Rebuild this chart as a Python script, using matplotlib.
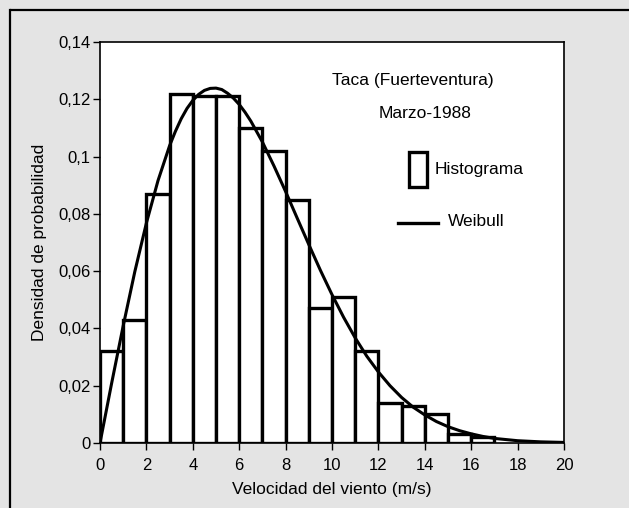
import matplotlib
matplotlib.use("Agg")
import matplotlib.pyplot as plt
from matplotlib.patches import Rectangle
from matplotlib.lines import Line2D

plt.rcParams['font.family'] = ['Liberation Sans', 'DejaVu Sans']

# Histogram: bin left edges (m/s) and density values
bin_left = [0, 1, 2, 3, 4, 5, 6, 7, 8, 9, 10, 11, 12, 13, 14, 15, 16]
hist_vals = [0.032, 0.043, 0.087, 0.122, 0.121, 0.121, 0.110, 0.102, 0.085,
             0.047, 0.051, 0.032, 0.014, 0.013, 0.010, 0.003, 0.002]

# Weibull curve
weib_x = [0, 0.5, 1, 1.5, 2, 2.5, 3, 3.25, 3.5, 3.75, 4, 4.25, 4.5, 4.75, 5,
          5.25, 5.5, 5.75, 6, 6.25, 6.5, 7, 7.5, 8,
          8.5, 9, 9.5, 10, 10.5, 11, 11.5, 12, 12.5, 13, 13.5, 14, 14.5, 15,
          15.5, 16, 16.5, 17, 17.5, 18, 18.5, 19, 19.5, 20]
weib_y = [0.0, 0.0208, 0.0409, 0.0598, 0.0768, 0.0916, 0.1038, 0.1088, 0.1132,
          0.1168, 0.1196, 0.1217, 0.1231, 0.1238, 0.1239, 0.1234, 0.1221,
          0.1204, 0.1182, 0.1155, 0.1124, 0.1051, 0.0967, 0.0878,
          0.0785, 0.0693, 0.0603, 0.0518, 0.0439, 0.0367, 0.0303, 0.0248,
          0.0200, 0.0159, 0.0125, 0.0098, 0.0075, 0.0057, 0.0043, 0.0032,
          0.0023, 0.0016, 0.0012, 0.0008, 0.0006, 0.0004, 0.0003, 0.0002]

xticks = [0, 2, 4, 6, 8, 10, 12, 14, 16, 18, 20]
yticks = [0, 0.02, 0.04, 0.06, 0.08, 0.10, 0.12, 0.14]
ytick_labels = ['0', '0,02', '0,04', '0,06', '0,08', '0,1', '0,12', '0,14']

title1 = 'Taca (Fuerteventura)'
title2 = 'Marzo-1988'
xlabel = 'Velocidad del viento (m/s)'
ylabel = 'Densidad de probabilidad'
leg_hist = 'Histograma'
leg_weib = 'Weibull'

bg = '#e4e4e4'
W, H = 629, 508
fig = plt.figure(figsize=(W / 100, H / 100), dpi=100, facecolor=bg)
fig.patch.set_linewidth(0)

# outer frame: only left and top edges visible
fig.lines.append(Line2D([10 / W, 10 / W], [0, 1 - 10 / H], transform=fig.transFigure,
                        color='black', linewidth=1.6, solid_capstyle='projecting'))
fig.lines.append(Line2D([10 / W, 1], [1 - 10 / H, 1 - 10 / H], transform=fig.transFigure,
                        color='black', linewidth=1.6, solid_capstyle='butt'))

ax = fig.add_axes([100 / W, 1 - 443 / H, 464 / W, 401 / H])
ax.set_facecolor('white')

ax.bar(bin_left, hist_vals, width=1.0, align='edge', facecolor='white',
       edgecolor='black', linewidth=2.4, zorder=2)
ax.plot(weib_x, weib_y, color='black', linewidth=2.2, zorder=3)

ax.set_xlim(0, 20)
ax.set_ylim(0, 0.14)
ax.set_xticks(xticks)
ax.set_xticklabels([str(t) for t in xticks])
ax.set_yticks(yticks)
ax.set_yticklabels(ytick_labels)
for s in ax.spines.values():
    s.set_linewidth(1.2)
ax.tick_params(axis='both', direction='out', length=5, width=1.0,
               labelsize=12, colors='black')
ax.tick_params(axis='y', pad=2)
ax.tick_params(axis='x', pad=6)

ax.set_xlabel(xlabel, fontsize=12.5, labelpad=6)
ax.set_ylabel(ylabel, fontsize=12.5, labelpad=8)

# annotations
fig.text(413 / W, 1 - 81 / H, title1, fontsize=12.5, ha='center', va='center')
fig.text(425 / W, 1 - 113 / H, title2, fontsize=12.5, ha='center', va='center')

# legend items
leg_rect = Rectangle((409 / W, 1 - 187 / H), 18 / W, 35 / H, transform=fig.transFigure,
                     facecolor='white', edgecolor='black', linewidth=2.4)
fig.patches.append(leg_rect)
fig.text(435 / W, 1 - 169 / H, leg_hist, fontsize=12.5, ha='left', va='center')
fig.lines.append(Line2D([398 / W, 438 / W], [1 - 223 / H, 1 - 223 / H],
                        transform=fig.transFigure, color='black', linewidth=2.4))
fig.text(448 / W, 1 - 222 / H, leg_weib, fontsize=12.5, ha='left', va='center')

fig.savefig('out.png', dpi=100, facecolor=bg)
